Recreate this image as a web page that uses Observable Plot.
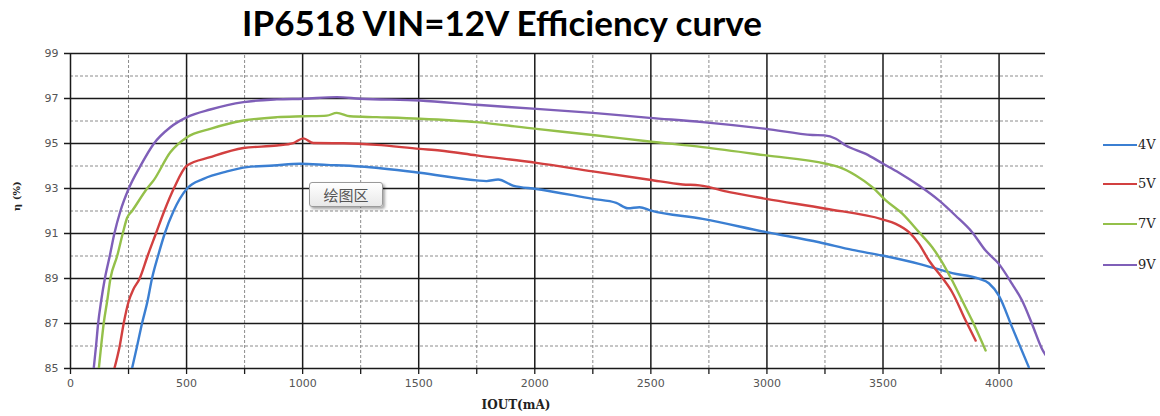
<!DOCTYPE html>
<html>
<head>
<meta charset="utf-8">
<script src="https://cdn.jsdelivr.net/npm/d3@7"></script>
<script src="https://cdn.jsdelivr.net/npm/@observablehq/plot@0.6"></script>
<style>
  body { margin: 0; background: #fff; }
  #wrap { position: relative; width: 1160px; height: 416px; overflow: hidden; background: #fff; }
  #title { position: absolute; left: 0; top: 2px; width: 1004px; height: 40px; text-align: center; white-space: nowrap;
           font-family: Lato, "Open Sans", sans-serif; font-weight: 700; font-size: 35px; color: #000; line-height: 40px; }
  #chart { position: absolute; left: 0; top: 40px; }
  .lg-line { position: absolute; left: 1103px; width: 34px; height: 0; border-top: 2.5px solid; }
  .lg-text { position: absolute; left: 1138px; font-family: "DejaVu Serif", serif; font-size: 13px; color: #222; line-height: 16px; }
  #tip { position: absolute; left: 309px; top: 182px; width: 72px; height: 23px; border: 1px solid #9a9a9a; border-radius: 3px;
         background: linear-gradient(#ffffff, #e8e8e8); box-shadow: 2px 2px 3px rgba(0,0,0,0.35);
         font-family: "Noto Sans CJK SC", sans-serif; font-size: 15px; color: #555; text-align: center; line-height: 23px; }
</style>
</head>
<body>
<div id="wrap">
  <div id="title">IP6518 VIN=12V Efficiency curve</div>
  <div id="chart"></div>
  <div id="legend"></div>
  <div id="tip">绘图区</div>
</div>
<script>
const seriesNames = ["4V", "5V", "7V", "9V"];
const seriesColors = ["#3b7fd2", "#d24040", "#94c04a", "#7f5fb8"];

const x4V = [265, 287, 308, 332, 351, 377, 406, 444, 502, 573, 674, 760, 874, 989, 1104, 1247, 1505, 1749, 1792, 1842, 1906, 2007, 2250, 2351, 2401, 2451, 2501, 2723, 2997, 3225, 3368, 3497, 3655, 3798, 3913, 3956, 3999, 4056, 4128];
const y4V = [85, 86, 87, 88, 89, 90, 91, 92, 93.0, 93.43, 93.76, 93.95, 94.02, 94.1, 94.05, 93.98, 93.7, 93.36, 93.33, 93.4, 93.13, 92.98, 92.54, 92.36, 92.12, 92.17, 92.02, 91.65, 91.06, 90.61, 90.27, 90.02, 89.65, 89.24, 88.99, 88.79, 88.24, 86.84, 85.06];

const x5V = [189, 212, 229, 251, 270, 298, 332, 368, 404, 445, 502, 602, 745, 889, 960, 1003, 1046, 1175, 1319, 1505, 1591, 1749, 2007, 2250, 2494, 2637, 2709, 2838, 2997, 3254, 3497, 3555, 3612, 3655, 3698, 3748, 3798, 3856, 3899];
const y5V = [85, 86, 87, 88, 88.5, 89, 90, 91, 92, 93.0, 94.02, 94.39, 94.8, 94.91, 95.02, 95.23, 95.02, 95.01, 94.94, 94.76, 94.69, 94.47, 94.14, 93.76, 93.39, 93.18, 93.14, 92.84, 92.54, 92.1, 91.63, 91.43, 91.06, 90.54, 89.8, 89.13, 88.39, 87.13, 86.24];

const x7V = [122, 132, 143, 158, 172, 201, 225, 244, 265, 330, 358, 430, 502, 602, 745, 889, 1003, 1104, 1147, 1204, 1319, 1505, 1749, 2007, 2250, 2494, 2723, 2997, 3254, 3311, 3383, 3454, 3512, 3583, 3655, 3712, 3755, 3798, 3841, 3884, 3942];
const y7V = [85, 86, 87, 88, 89, 90, 91, 91.7, 92, 93.0, 93.36, 94.61, 95.28, 95.65, 96.02, 96.17, 96.21, 96.24, 96.36, 96.21, 96.17, 96.1, 95.95, 95.65, 95.38, 95.09, 94.84, 94.47, 94.1, 93.95, 93.58, 93.06, 92.47, 91.88, 91.06, 90.39, 89.72, 88.91, 88.02, 87.13, 85.8];

const x9V = [100, 110, 119, 132, 148, 169, 189, 215, 251, 301, 358, 430, 502, 602, 745, 889, 1003, 1147, 1247, 1505, 1749, 2007, 2250, 2494, 2723, 2997, 3197, 3247, 3297, 3340, 3426, 3497, 3569, 3655, 3741, 3812, 3884, 3942, 3999, 4056, 4099, 4142, 4185, 4200];
const y9V = [85, 86, 87, 88, 89, 90, 91, 92, 93, 94.0, 94.98, 95.72, 96.17, 96.51, 96.84, 96.96, 96.99, 97.06, 96.99, 96.91, 96.72, 96.54, 96.36, 96.14, 95.95, 95.65, 95.38, 95.36, 95.21, 94.91, 94.54, 94.12, 93.7, 93.13, 92.47, 91.8, 91.06, 90.24, 89.65, 88.76, 88.02, 86.98, 85.87, 85.6];

const yMajor = [85, 87, 89, 91, 93, 95, 97, 99];
const yMinor = [86, 88, 90, 92, 94, 96, 98];
const xMajor = [0, 500, 1000, 1500, 2000, 2500, 3000, 3500, 4000];
const xMinor = [250, 750, 1250, 1750, 2250, 2750, 3250, 3750];
const xTicks = [0, 250, 500, 750, 1000, 1250, 1500, 1750, 2000, 2250, 2500, 2750, 3000, 3250, 3500, 3750, 4000];

const xLabel = "IOUT(mA)";
const yLabel = "η (%)";

const seriesX = [x4V, x5V, x7V, x9V];
const seriesY = [y4V, y5V, y7V, y9V];
const table = [];
seriesNames.forEach((name, i) => {
  seriesX[i].forEach((xv, j) => table.push({series: name, x: xv, y: seriesY[i][j]}));
});

const chart = Plot.plot({
  width: 1160,
  height: 376,
  marginLeft: 70,
  marginRight: 115,
  marginTop: 13,
  marginBottom: 48,
  x: {domain: [0, 4200]},
  y: {domain: [85, 99]},
  color: {domain: seriesNames, range: seriesColors},
  style: {fontFamily: "'DejaVu Sans', sans-serif", fontSize: "11px", color: "#555", background: "transparent", overflow: "visible"},
  marks: [
    Plot.ruleY(yMinor, {stroke: "#8c8c8c", strokeDasharray: "3,2", strokeWidth: 1}),
    Plot.ruleX(xMinor, {y1: 85, y2: 99, stroke: "#8c8c8c", strokeDasharray: "3,2", strokeWidth: 1}),
    Plot.ruleY(yMajor, {stroke: "#1a1a1a", strokeWidth: 1.5}),
    Plot.ruleX(xMajor, {y1: 85, y2: 99, stroke: "#1a1a1a", strokeWidth: 1.5}),
    Plot.line(table, {x: "x", y: "y", z: "series", stroke: "series", strokeWidth: 2.4, curve: "monotone-x", clip: true}),
    Plot.axisY({ticks: yMajor, tickSize: 6, tickPadding: 6, label: null, stroke: "#1a1a1a", fill: "#555", strokeWidth: 1.5}),
    Plot.axisX({ticks: xTicks, tickSize: 6, tickPadding: 5, label: null, stroke: "#1a1a1a", fill: "#555", strokeWidth: 1.3,
                tickFormat: d => d % 500 === 0 ? String(d) : ""}),
    Plot.text([xLabel], {frameAnchor: "bottom", dx: -42, dy: 40, fontFamily: "'DejaVu Serif', serif", fontWeight: "bold", fontSize: 12, fill: "#222"}),
    Plot.text([yLabel], {frameAnchor: "left", dx: -54, rotate: -90, fontFamily: "'DejaVu Serif', serif", fontWeight: "bold", fontSize: 10, fill: "#222"})
  ]
});
document.getElementById("chart").appendChild(chart);

const legendY = [145, 184, 224, 265];
const legend = document.getElementById("legend");
seriesNames.forEach((name, i) => {
  const ln = document.createElement("div");
  ln.className = "lg-line";
  ln.style.top = (legendY[i] - 1) + "px";
  ln.style.borderTopColor = seriesColors[i];
  legend.appendChild(ln);
  const tx = document.createElement("div");
  tx.className = "lg-text";
  tx.style.top = (legendY[i] - 8) + "px";
  tx.textContent = name;
  legend.appendChild(tx);
});
</script>
</body>
</html>
